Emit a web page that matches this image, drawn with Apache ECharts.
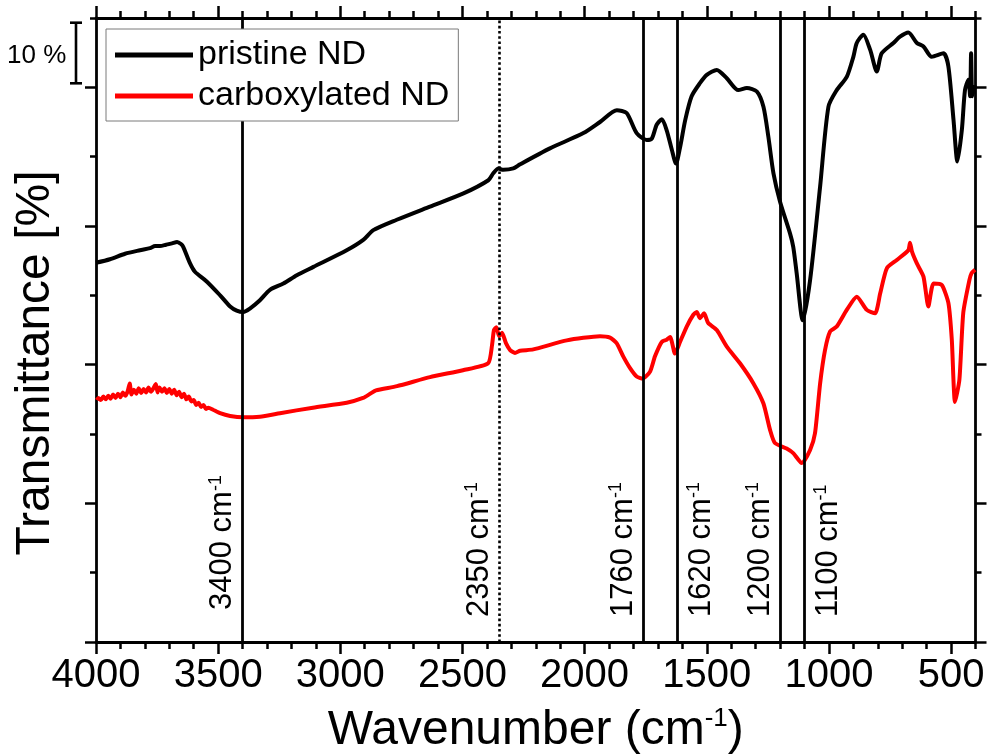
<!DOCTYPE html>
<html>
<head>
<meta charset="utf-8">
<script src="https://cdn.jsdelivr.net/npm/echarts@6/dist/echarts.min.js"></script>
<style>
html,body{margin:0;padding:0;background:#fff;}
#chart{width:989px;height:756px;}
</style>
</head>
<body>
<div id="chart"></div>
<script>
// ---------- data ----------
const seriesNames = ['pristine ND', 'carboxylated ND'];

const wnPristine = [4000,3943,3881,3820,3779,3758,3738,3713,3689,3668,3652,3643,3615,3595,3547,3492,3451,3424,3397,3370,3329,3288,3233,3178,3110,2974,2906,2865,2769,2633,2496,2394,2374,2353,2333,2292,2264,2142,2005,1937,1868,1828,1787,1746,1725,1705,1684,1664,1643,1626,1609,1588,1562,1528,1500,1459,1418,1371,1336,1295,1268,1248,1227,1200,1159,1146,1132,1107,1077,1036,1002,968,927,900,886,859,831,804,784,736,709,675,640,613,579,531,511,490,474,456,443,429,422,418,413,402];
const tPristine = [54.7,55.2,56.0,56.5,56.8,57.1,57.1,57.3,57.5,57.7,57.4,57.0,54.6,53.4,52.0,50.0,48.4,47.8,47.6,48.1,49.3,50.8,51.7,52.9,54.1,56.5,58.0,59.4,60.9,62.8,64.7,66.6,67.6,68.3,68.1,68.3,68.9,71.2,73.4,75.0,76.7,76.3,73.4,72.4,72.6,74.6,75.4,73.8,71.0,69.0,71.4,75.3,78.7,80.6,81.8,82.5,81.3,79.6,79.9,79.4,77.2,72.9,67.6,63.5,58.9,57.0,53.2,46.4,52.2,65.7,77.2,79.6,81.5,84.4,86.4,87.6,85.4,82.3,84.9,86.4,87.3,87.9,86.4,85.9,84.4,84.9,83.0,75.3,69.3,73.8,79.6,81.1,78.7,84.9,78.7,80.3];

const wnCarbox = [3997,3990,3980,3970,3960,3950,3940,3930,3920,3910,3900,3890,3880,3870,3862,3855,3845,3835,3825,3815,3805,3795,3785,3775,3765,3755,3748,3740,3730,3720,3710,3700,3690,3680,3670,3660,3650,3640,3630,3620,3610,3600,3590,3580,3570,3560,3550,3540,3521,3492,3451,3398,3329,3247,3112,2974,2907,2878,2854,2768,2633,2498,2395,2379,2371,2361,2350,2338,2322,2305,2285,2264,2210,2073,1937,1896,1869,1842,1814,1787,1762,1732,1712,1684,1664,1650,1630,1609,1582,1555,1541,1528,1511,1494,1459,1418,1364,1309,1268,1241,1221,1173,1145,1111,1077,1057,1036,1016,995,968,927,886,845,811,790,763,722,675,668,660,640,613,593,572,538,511,497,484,466,450,425,416,402];
const tCarbox = [34.9,35.2,34.9,35.4,35.0,35.5,35.1,35.7,35.2,35.8,35.3,36.0,35.5,36.2,37.3,35.7,36.4,35.8,36.6,35.9,36.5,36.0,36.7,36.1,36.6,37.2,36.0,36.7,36.1,36.6,35.9,36.5,35.8,36.4,35.6,36.1,35.3,35.8,35.0,35.4,34.7,34.9,34.2,34.5,33.9,34.2,33.6,33.8,33.5,33.0,32.6,32.4,32.5,33.0,33.8,34.5,35.2,35.8,36.3,36.9,38.2,39.2,40.2,42.8,45.0,45.4,44.1,44.6,43.1,42.1,41.7,42.0,42.2,43.5,44.1,43.9,43.1,41.2,39.5,38.3,38.0,39.0,41.2,43.3,43.6,44.0,41.6,43.3,45.5,47.2,47.6,46.7,47.4,46.0,45.0,42.6,40.2,37.3,34.4,30.6,28.7,27.9,27.2,25.8,27.7,30.1,37.3,42.1,44.8,45.5,47.9,49.8,47.9,47.4,50.3,53.9,55.1,56.5,57.6,56.3,54.6,52.7,48.4,51.7,51.5,48.9,43.6,34.6,37.8,47.5,52.2,53.2,53.7];

const bandWn = [3400, 2350, 1760, 1620, 1200, 1100];
const xTickLabels = [500, 1000, 1500, 2000, 2500, 3000, 3500, 4000];
const yMajorTicks = [0, 20, 40, 60, 80];
const scaleBarText = '10 %';
const xTitle = ['Wavenumber (cm', '-1', ')'];
const yTitle = 'Transmittance [%]';

// ---------- chart ----------
const FONT = 'Liberation Sans, Arial, sans-serif';
const zip = (a, b) => a.map((v, i) => [v, b[i]]);
const rightSide = new Set([1620, 1100]);
const dotted = new Set([2350]);

const chart = echarts.init(document.getElementById('chart'), null, {renderer: 'canvas'});

const X_MIN = 400, X_MAX = 4000, Y_MIN = 0, Y_MAX = 90;
const AX_W = 2.8;

function xAx(pos, major, extra) {
  return Object.assign({
    type: 'value', position: pos, min: X_MIN, max: X_MAX, inverse: true, interval: 100,
    gridIndex: 0,
    axisLine: {show: !major, onZero: false, lineStyle: {color: '#000', width: AX_W}},
    axisTick: major
      ? {show: true, customValues: xTickLabels, length: 12, lineStyle: {color: '#000', width: 2.5}}
      : {show: true, length: 7, lineStyle: {color: '#000', width: 2.5}},
    axisLabel: {show: false},
    splitLine: {show: false}
  }, extra || {});
}
function yAx(pos, major, extra) {
  return Object.assign({
    type: 'value', position: pos, min: Y_MIN, max: Y_MAX, interval: 10,
    gridIndex: 0,
    axisLine: {show: !major, onZero: false, lineStyle: {color: '#000', width: AX_W}},
    axisTick: major
      ? {show: true, customValues: yMajorTicks, length: 11, lineStyle: {color: '#000', width: 2.5}}
      : {show: true, length: 6, lineStyle: {color: '#000', width: 2.5}},
    axisLabel: {show: false},
    splitLine: {show: false}
  }, extra || {});
}

const markData = bandWn.map(v => {
  const d = {xAxis: v};
  if (rightSide.has(v)) d.label = {position: 'insideStartBottom', distance: [25, 8]};
  if (v === 3400) d.label = {distance: [32, 4]};
  if (dotted.has(v)) d.lineStyle = {type: [2.6, 2.6], width: 2.6};
  return d;
});

const option = {
  animation: false,
  backgroundColor: '#fff',
  textStyle: {fontFamily: FONT},
  grid: {left: 96, top: 18, width: 879.5, height: 624, outerBoundsMode: 'none', containLabel: false},
  xAxis: [
    xAx('bottom', false, {
      axisLabel: {show: true, customValues: xTickLabels, fontSize: 40, color: '#000', margin: 14, fontFamily: FONT,
                  formatter: v => String(v)},
      name: '{a|' + xTitle[0] + '}{b|' + xTitle[1] + '}{a|' + xTitle[2] + '}',
      nameLocation: 'middle', nameGap: 64,
      nameTextStyle: {
        color: '#000', fontFamily: FONT, fontSize: 48,
        rich: {
          a: {fontSize: 48, color: '#000', fontFamily: FONT, lineHeight: 50},
          b: {fontSize: 26, color: '#000', fontFamily: FONT, verticalAlign: 'top', lineHeight: 50, padding: [0, 0, 22, 0]}
        }
      }
    }),
    xAx('bottom', true),
    xAx('top', false),
    xAx('top', true)
  ],
  yAxis: [
    yAx('left', false, {
      name: yTitle, nameLocation: 'middle', nameGap: 36,
      nameTextStyle: {color: '#000', fontFamily: FONT, fontSize: 48, padding: [0, 66, 0, 0]}
    }),
    yAx('left', true),
    yAx('right', false),
    yAx('right', true)
  ],
  legend: {
    data: seriesNames,
    orient: 'vertical',
    left: 106, top: 29,
    padding: [9, 9, 8, 9],
    itemWidth: 78, itemHeight: 5, itemGap: 7,
    icon: 'rect',
    backgroundColor: '#fff',
    borderColor: '#7a7a7a', borderWidth: 1,
    textStyle: {fontSize: 34, color: '#000', fontFamily: FONT, lineHeight: 34},
    z: 10
  },
  series: [
    {
      name: seriesNames[0], type: 'line', xAxisIndex: 0, yAxisIndex: 0,
      data: zip(wnPristine, tPristine),
      showSymbol: false, symbol: 'none', smooth: 0.25,
      color: '#000',
      lineStyle: {color: '#000', width: 4, join: 'round'},
      z: 3,
      markLine: {
        silent: true, symbol: ['none', 'none'], animation: false,
        lineStyle: {color: '#000', width: 2.8, type: 'solid'},
        label: {
          show: true, position: 'insideStartTop', distance: [25, 4],
          color: '#000', fontFamily: FONT,
          formatter: p => '{n|' + p.value + ' cm}{s|-1}',
          rich: {
            n: {fontSize: 31, color: '#000', fontFamily: FONT, lineHeight: 32},
            s: {fontSize: 18, color: '#000', fontFamily: FONT, verticalAlign: 'top', lineHeight: 32, padding: [0, 0, 14, 0]}
          }
        },
        data: markData
      }
    },
    {
      name: seriesNames[1], type: 'line', xAxisIndex: 0, yAxisIndex: 0,
      data: zip(wnCarbox, tCarbox),
      showSymbol: false, symbol: 'none', smooth: 0.2,
      color: '#ff0000',
      lineStyle: {color: '#ff0000', width: 4, join: 'round'},
      z: 3
    }
  ],
  graphic: [
    {type: 'line', shape: {x1: 76, y1: 22.7, x2: 76, y2: 83.3}, style: {stroke: '#000', lineWidth: 2.6}},
    {type: 'line', shape: {x1: 70, y1: 22.7, x2: 82, y2: 22.7}, style: {stroke: '#000', lineWidth: 2.6}},
    {type: 'line', shape: {x1: 70, y1: 83.3, x2: 82, y2: 83.3}, style: {stroke: '#000', lineWidth: 2.6}},
    {type: 'text', left: 7, top: 43, style: {text: scaleBarText, fontSize: 26, fill: '#000', fontFamily: FONT}}
  ]
};
chart.setOption(option);
</script>
</body>
</html>
